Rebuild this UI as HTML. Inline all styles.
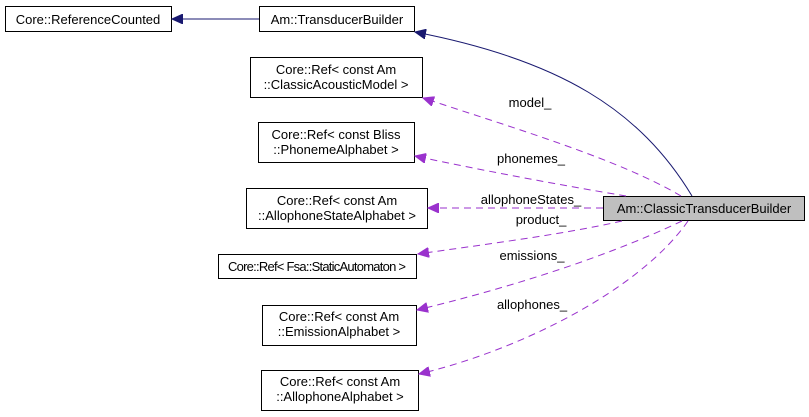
<!DOCTYPE html>
<html><head><meta charset="utf-8"><style>
html,body{margin:0;padding:0;background:#fff;}
svg{display:block;}
text{font-family:"Liberation Sans",Helvetica,sans-serif;font-size:13px;fill:#000;}
</style></head><body>
<svg width="809" height="417" viewBox="0 0 809 417" xmlns="http://www.w3.org/2000/svg">
<defs>
<marker id="ab" markerWidth="12" markerHeight="10" refX="11" refY="5" orient="auto" markerUnits="userSpaceOnUse"><path d="M0,0 L11,5 L0,10 z" fill="#191970" stroke="#191970"/></marker>
<marker id="ap" markerWidth="12" markerHeight="10" refX="11" refY="5" orient="auto" markerUnits="userSpaceOnUse"><path d="M0,0 L11,5 L0,10 z" fill="#9a32cd" stroke="#9a32cd"/></marker>
</defs>
<g fill="#fff" stroke="#000" stroke-width="1">
<rect x="5.5" y="6.5" width="166" height="25"/>
<rect x="259.5" y="6.5" width="155" height="25"/>
<rect x="250.5" y="57.5" width="172" height="40"/>
<rect x="258.5" y="122.5" width="156" height="40"/>
<rect x="246.5" y="188.5" width="181" height="40"/>
<rect x="218.5" y="254.5" width="198" height="24"/>
<rect x="262.5" y="305.5" width="154" height="40"/>
<rect x="261.5" y="370.5" width="157" height="40"/>
<rect x="603.5" y="196.5" width="201" height="24" fill="#bfbfbf"/>
</g>
<g fill="none">
<line x1="259" y1="19" x2="172" y2="19" stroke="#191970" marker-end="url(#ab)"/>
<path d="M692,196 C640,110 560,60 415,32" stroke="#191970" marker-end="url(#ab)"/>
<g stroke="#9a32cd" stroke-dasharray="7,5">
<path d="M681,196 C620,160 520,130 423,98" marker-end="url(#ap)"/>
<path d="M626,196 C560,185 480,170 415,156" marker-end="url(#ap)"/>
<path d="M603,208 L428,208" marker-end="url(#ap)"/>
<path d="M622,221 C560,235 480,245 418,254" marker-end="url(#ap)"/>
<path d="M682,221 C600,260 500,290 417,310" marker-end="url(#ap)"/>
<path d="M688,221 C640,290 520,350 419,374" marker-end="url(#ap)"/>
</g>
</g>
<text x="88" y="24" text-anchor="middle">Core::ReferenceCounted</text>
<text x="337" y="24" text-anchor="middle">Am::TransducerBuilder</text>
<text x="336" y="74" text-anchor="middle">Core::Ref&lt; const Am</text>
<text x="336" y="89" text-anchor="middle">::ClassicAcousticModel &gt;</text>
<text x="336" y="139" text-anchor="middle">Core::Ref&lt; const Bliss</text>
<text x="336" y="154" text-anchor="middle">::PhonemeAlphabet &gt;</text>
<text x="337" y="205" text-anchor="middle">Core::Ref&lt; const Am</text>
<text x="337" y="220" text-anchor="middle">::AllophoneStateAlphabet &gt;</text>
<text x="228" y="271" textLength="178" lengthAdjust="spacing">Core::Ref&lt; Fsa::StaticAutomaton &gt;</text>
<text x="339" y="321" text-anchor="middle">Core::Ref&lt; const Am</text>
<text x="339" y="336" text-anchor="middle">::EmissionAlphabet &gt;</text>
<text x="340" y="386" text-anchor="middle">Core::Ref&lt; const Am</text>
<text x="340" y="401" text-anchor="middle">::AllophoneAlphabet &gt;</text>
<text x="704" y="213" text-anchor="middle">Am::ClassicTransducerBuilder</text>
<text x="530" y="107" text-anchor="middle">model_</text>
<text x="531" y="163" text-anchor="middle">phonemes_</text>
<text x="531" y="204" text-anchor="middle">allophoneStates_</text>
<text x="541" y="224" text-anchor="middle">product_</text>
<text x="532" y="260" text-anchor="middle">emissions_</text>
<text x="532" y="309" text-anchor="middle">allophones_</text>
</svg>
</body></html>
